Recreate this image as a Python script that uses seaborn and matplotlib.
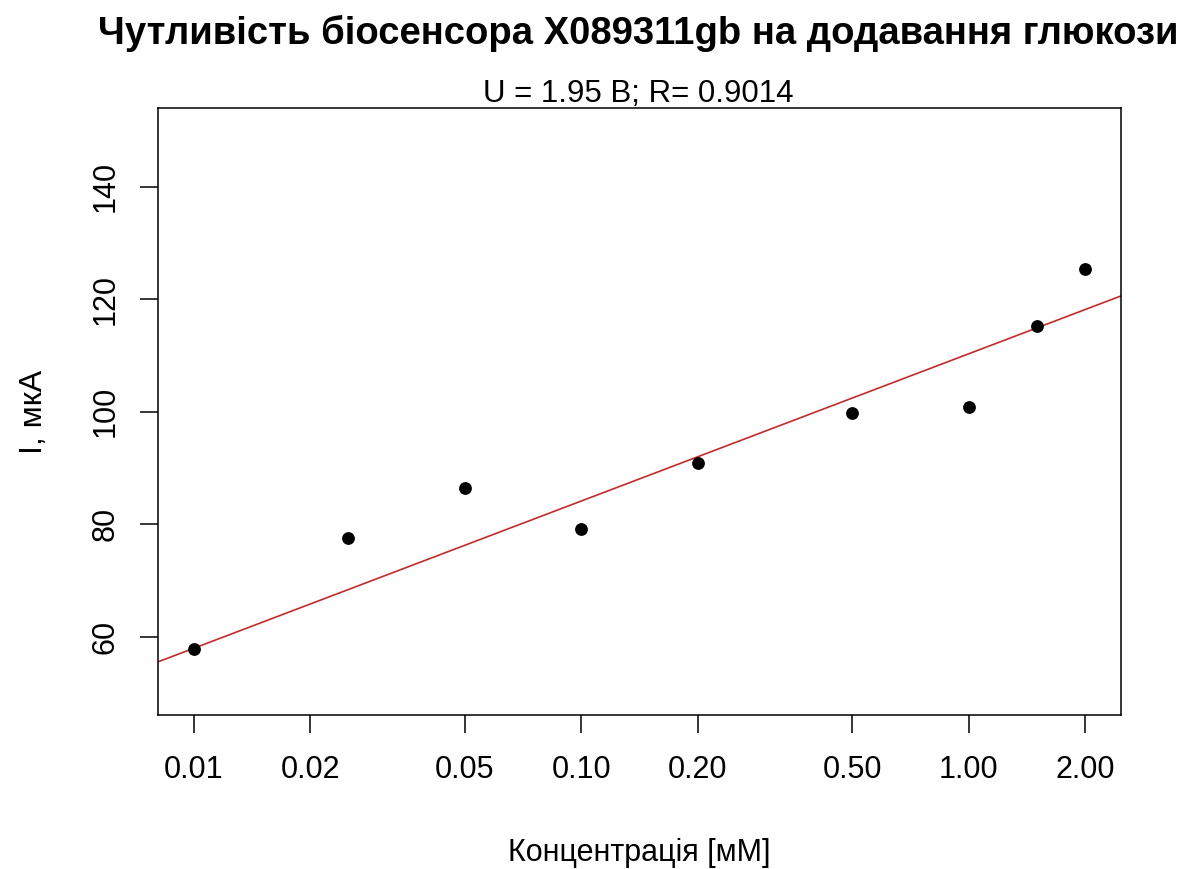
import numpy as np
import pandas as pd
import matplotlib
matplotlib.use("Agg")
import matplotlib.pyplot as plt
import seaborn as sns

# дані: концентрація глюкози (мМ) та струм (мкА)
conc = [0.01, 0.025, 0.05, 0.10, 0.20, 0.50, 1.00, 1.50, 2.00]
current = [57.7, 77.5, 86.4, 79.1, 90.9, 99.8, 100.9, 115.2, 125.4]

# лінія тренду: I = a + b*log10(C)
fit_a = 110.3
fit_b = 26.2

x_ticks = [0.01, 0.02, 0.05, 0.10, 0.20, 0.50, 1.00, 2.00]
x_labels = ["0.01", "0.02", "0.05", "0.10", "0.20", "0.50", "1.00", "2.00"]
y_ticks = [60, 80, 100, 120, 140]

title = "Чутливість біосенсора X089311gb на додавання глюкози"
subtitle = "U = 1.95 В; R= 0.9014"

df = pd.DataFrame({"conc": conc, "current": current})

sns.set_style("ticks")
plt.rcParams["font.family"] = ["Liberation Sans", "DejaVu Sans"]
plt.rcParams["text.color"] = "black"
plt.rcParams["axes.labelcolor"] = "black"
plt.rcParams["xtick.color"] = "black"
plt.rcParams["ytick.color"] = "black"

fig = plt.figure(figsize=(12, 8.69), dpi=100)
ax = fig.add_axes([0.1317, 0.177, 0.8025, 0.6985])

# межі як у R (розширення на 4%)
lx = np.log10([min(conc), max(conc)])
pad = (lx[1] - lx[0]) * 0.04
xlim = (10 ** (lx[0] - pad), 10 ** (lx[1] + pad))
ax.set_xscale("log")
ax.set_xlim(xlim)
ax.set_ylim(46, 154)

sns.scatterplot(data=df, x="conc", y="current", color="black", s=85,
                edgecolor="black", linewidth=0, ax=ax, zorder=3)

xl = np.logspace(np.log10(xlim[0]), np.log10(xlim[1]), 50)
ax.plot(xl, fit_a + fit_b * np.log10(xl), color="#c42a2a", lw=1.2, zorder=2)

ax.set_xticks(x_ticks)
ax.set_xticklabels(x_labels)
ax.minorticks_off()
ax.set_yticks(y_ticks)
ax.set_yticklabels([str(v) for v in y_ticks], rotation=90, va="center")
ax.tick_params(axis="both", direction="out", length=13, width=1.1,
               labelsize=22, color="black", labelcolor="black")
ax.tick_params(axis="x", pad=16)
ax.tick_params(axis="y", pad=14)

for sp in ax.spines.values():
    sp.set_visible(True)
    sp.set_color("black")
    sp.set_linewidth(1.1)

ax.set_xlabel("Концентрація [мМ]", fontsize=22, labelpad=38)
ax.set_ylabel("I, мкА", fontsize=23, labelpad=30)

fig.text(0.532, 0.961, title, ha="center", va="center", fontsize=27.5,
         fontweight="bold")
fig.text(0.532, 0.892, subtitle, ha="center", va="center", fontsize=22.5)

fig.savefig("out.png", dpi=100, facecolor="white")
